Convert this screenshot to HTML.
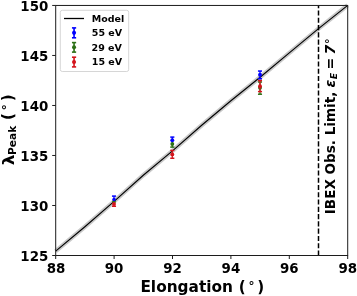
<!DOCTYPE html>
<html><head><meta charset="utf-8">
<style>
html,body{margin:0;padding:0;background:#fff;overflow:hidden}
svg{display:block}
text{font-family:"DejaVu Sans","Liberation Sans",sans-serif;font-weight:bold;fill:#000}
.tk{font-size:13.4px}
.lg{font-size:9.5px}
.ax{font-size:15.2px}
.rl{font-size:13.4px}
.it{font-style:oblique}
</style></head>
<body>
<svg width="357" height="296" viewBox="0 0 357 296">
<rect width="357" height="296" fill="#fff"/>
<polyline points="55.7,251.13 84.9,226.73 114.1,201.43 143.3,175.23 172.5,150.93 201.7,125.23 230.9,100.73 260.1,77.23 289.3,52.93 318.5,28.63 347.7,5.33" fill="none" stroke="#c8c8c8" stroke-width="4.4"/>
<polyline points="55.7,251.13 84.9,226.73 114.1,201.43 143.3,175.23 172.5,150.93 201.7,125.23 230.9,100.73 260.1,77.23 289.3,52.93 318.5,28.63 347.7,5.33" fill="none" stroke="#000" stroke-width="1.1"/>
<line x1="318.5" y1="255.5" x2="318.5" y2="5.45" stroke="#000" stroke-width="1.5" stroke-dasharray="5.08 2.19"/>
<rect x="112.2" y="200.7" width="3.6" height="2.0" fill="#2c7016"/><line x1="114.0" x2="114.0" y1="202.7" y2="206.2" stroke="#d4141c" stroke-width="1.25"/><line x1="111.95" x2="116.05" y1="206.25" y2="206.25" stroke="#d4141c" stroke-width="1.5"/><circle cx="114.0" cy="203.9" r="1.95" fill="#d4141c"/><line x1="114.0" x2="114.0" y1="196.1" y2="199.5" stroke="#0000ff" stroke-width="1.25"/><line x1="111.95" x2="116.05" y1="196.1" y2="196.1" stroke="#0000ff" stroke-width="1.5"/><circle cx="114.0" cy="199.55" r="1.75" fill="#0000ff"/>
<line x1="172.3" x2="172.3" y1="137.1" y2="143.0" stroke="#0000ff" stroke-width="1.25"/><line x1="170.25" x2="174.35" y1="137.1" y2="137.1" stroke="#0000ff" stroke-width="1.5"/><circle cx="172.3" cy="140.3" r="1.95" fill="#0000ff"/><line x1="172.3" x2="172.3" y1="143.9" y2="147.1" stroke="#2c7016" stroke-width="1.25"/><line x1="170.25" x2="174.35" y1="147.1" y2="147.1" stroke="#2c7016" stroke-width="1.5"/><circle cx="172.3" cy="143.95" r="1.95" fill="#2c7016"/><line x1="172.3" x2="172.3" y1="150.4" y2="158.2" stroke="#d4141c" stroke-width="1.25"/><line x1="170.25" x2="174.35" y1="150.45" y2="150.45" stroke="#d4141c" stroke-width="1.5"/><line x1="170.25" x2="174.35" y1="158.25" y2="158.25" stroke="#d4141c" stroke-width="1.5"/><circle cx="172.3" cy="154.4" r="1.95" fill="#d4141c"/>
<line x1="260.0" x2="260.0" y1="71.0" y2="78.7" stroke="#0000ff" stroke-width="1.25"/><line x1="257.95" x2="262.05" y1="71.05" y2="71.05" stroke="#0000ff" stroke-width="1.5"/><line x1="257.95" x2="262.05" y1="78.75" y2="78.75" stroke="#0000ff" stroke-width="1.5"/><circle cx="260.0" cy="74.8" r="1.95" fill="#0000ff"/><line x1="260.0" x2="260.0" y1="82.0" y2="94.2" stroke="#2c7016" stroke-width="1.25"/><line x1="257.95" x2="262.05" y1="82.0" y2="82.0" stroke="#2c7016" stroke-width="1.5"/><line x1="257.95" x2="262.05" y1="94.2" y2="94.2" stroke="#2c7016" stroke-width="1.5"/><circle cx="260.0" cy="87.8" r="1.95" fill="#2c7016"/><line x1="260.0" x2="260.0" y1="80.6" y2="91.6" stroke="#d4141c" stroke-width="1.25"/><line x1="257.95" x2="262.05" y1="80.6" y2="80.6" stroke="#d4141c" stroke-width="1.5"/><line x1="257.95" x2="262.05" y1="91.6" y2="91.6" stroke="#d4141c" stroke-width="1.5"/><circle cx="260.0" cy="86.2" r="1.95" fill="#d4141c"/>
<rect x="55.7" y="5.45" width="292.0" height="250.05" fill="none" stroke="#1c1c1c" stroke-width="1.0"/>
<g stroke="#1c1c1c" stroke-width="1.0"><line x1="52.2" x2="55.7" y1="255.5" y2="255.5"/><line x1="52.2" x2="55.7" y1="205.49" y2="205.49"/><line x1="52.2" x2="55.7" y1="155.48" y2="155.48"/><line x1="52.2" x2="55.7" y1="105.47" y2="105.47"/><line x1="52.2" x2="55.7" y1="55.46" y2="55.46"/><line x1="52.2" x2="55.7" y1="5.45" y2="5.45"/><line y1="255.5" y2="259.0" x1="55.7" x2="55.7"/><line y1="255.5" y2="259.0" x1="114.1" x2="114.1"/><line y1="255.5" y2="259.0" x1="172.5" x2="172.5"/><line y1="255.5" y2="259.0" x1="230.9" x2="230.9"/><line y1="255.5" y2="259.0" x1="289.3" x2="289.3"/><line y1="255.5" y2="259.0" x1="347.7" x2="347.7"/></g>
<g class="tk" text-anchor="end"><text x="48.3" y="260.8">125</text><text x="48.3" y="210.8">130</text><text x="48.3" y="160.8">135</text><text x="48.3" y="110.8">140</text><text x="48.3" y="60.8">145</text><text x="48.3" y="10.8">150</text></g>
<g class="tk" text-anchor="middle"><text x="56.0" y="273.3">88</text><text x="114.1" y="273.3">90</text><text x="172.5" y="273.3">92</text><text x="230.9" y="273.3">94</text><text x="289.3" y="273.3">96</text><text x="347.7" y="273.3">98</text></g>
<g class="ax"><text x="140.4" y="291.6" style="font-size:15.35px">Elongation</text><text x="238.8" y="291.7">(</text><text x="248.6" y="289.9" style="font-size:12px">°</text><text x="257.3" y="291.7">)</text></g>
<rect x="60.3" y="10.3" width="68.4" height="61.2" rx="2" ry="2" fill="#fff" fill-opacity="0.8" stroke="#ccc" stroke-width="0.8"/>
<line x1="64" x2="84" y1="18.5" y2="18.5" stroke="#000" stroke-width="1.3"/>
<g stroke="#0000ff" fill="#0000ff" stroke-width="1.6"><line x1="74.05" x2="74.05" y1="27.9" y2="37.8"/><line x1="71.95" x2="76.15" y1="27.9" y2="27.9"/><line x1="71.95" x2="76.15" y1="37.8" y2="37.8"/><circle cx="74.05" cy="32.85" r="2.05" stroke="none"/></g>
<g stroke="#2c7016" fill="#2c7016" stroke-width="1.6"><line x1="74.05" x2="74.05" y1="42.6" y2="52.1"/><line x1="71.95" x2="76.15" y1="42.6" y2="42.6"/><line x1="71.95" x2="76.15" y1="52.1" y2="52.1"/><circle cx="74.05" cy="47.35" r="2.05" stroke="none"/></g>
<g stroke="#d4141c" fill="#d4141c" stroke-width="1.6"><line x1="74.05" x2="74.05" y1="57.2" y2="66.9"/><line x1="71.95" x2="76.15" y1="57.2" y2="57.2"/><line x1="71.95" x2="76.15" y1="66.9" y2="66.9"/><circle cx="74.05" cy="62.05" r="2.05" stroke="none"/></g>
<g class="lg"><text x="91.8" y="21.8">Model</text><text x="91.8" y="36.2">55 eV</text><text x="91.6" y="50.7">29 eV</text><text x="91.8" y="65.1">15 eV</text></g>
<g transform="translate(13.6,165.2) rotate(-90)" class="ax"><text x="0" y="0" transform="scale(1.06,1)" style="font-size:16px">λ</text><text x="10.3" y="2.2" style="font-size:10.6px">Peak</text><text x="45.2" y="-1">(</text><text x="55.0" y="-2.9" style="font-size:12px">°</text><text x="63.9" y="-1">)</text></g>
<g transform="translate(334.7,214.2) rotate(-90)" class="rl"><text x="0" y="0" style="font-size:13.55px">IBEX Obs. Limit,</text><text x="130.7" y="0" text-anchor="middle" class="it" style="font-size:14px">ε</text><text x="138.2" y="2.4" text-anchor="middle" class="it" style="font-size:9.4px">E</text><text x="150.6" y="0" text-anchor="middle" style="font-size:14px">=</text><text x="164.6" y="0" text-anchor="middle" class="it" style="font-size:14px">7</text><text x="170.2" y="-1.5" style="font-size:11px">°</text></g>
</svg>
</body></html>
